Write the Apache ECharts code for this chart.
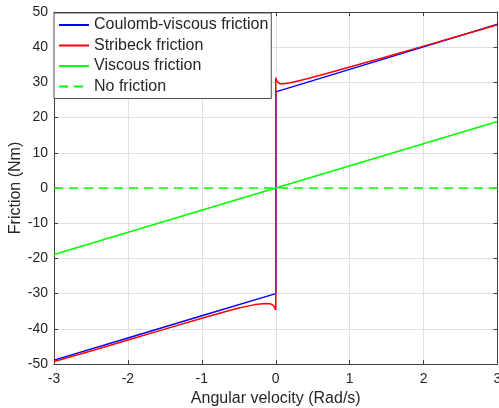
<!DOCTYPE html>
<html>
<head>
<meta charset="utf-8">
<title>Friction models</title>
<script src="https://cdn.jsdelivr.net/npm/echarts@6/dist/echarts.min.js"></script>
<style>
html, body {
	margin: 0;
	padding: 0;
	background: #fff;
}
#chart {
	width: 499px;
	height: 408px;
}
</style>
</head>
<body>
<div id="chart"></div>
<script type="text/javascript">
// data: [angular velocity, friction]
var coulombViscous = [[-3, -48.9], [-2, -42.6], [-1, -36.3], [0, -30.0],
    [0, 27.3], [1, 33.7], [2, 40.1], [3, 46.5]];

var stribeck = [[-3, -49.3], [-2.5, -46.3], [-2, -43.2], [-1.5, -40.1], [-1, -37.0],
    [-0.7, -35.2], [-0.5, -34.1], [-0.3, -33.2], [-0.15, -32.8], [-0.07, -32.9],
    [-0.03, -33.4], [0, -34.6], [0, 31.3], [0.02, 30.2], [0.06, 29.6], [0.12, 29.6],
    [0.2, 29.9], [0.4, 30.9], [0.7, 32.6], [1, 34.4], [1.5, 37.3], [2, 40.3],
    [2.5, 43.3], [3, 46.4]];

var viscous = [[-3, -18.9], [3, 18.9]];
var noFriction = [[-3, 0], [3, 0]];

var seriesNames = ['Coulomb-viscous friction', 'Stribeck friction', 'Viscous friction', 'No friction'];

var axisColor = '#404040';
var textColor = '#262626';
var font = 'Liberation Sans, Arial, Helvetica, sans-serif';

var myChart = echarts.init(document.getElementById('chart'));

var option = {
    animation: false,
    grid: {left: 54, right: 1.5, top: 12, bottom: 44, containLabel: false, outerBoundsMode: 'none'},
    legend: {
        data: seriesNames,
        orient: 'vertical',
        left: 54,
        top: 13,
        itemWidth: 30,
        itemHeight: 14,
        itemGap: 4.5,
        padding: [4, 3, 4, 4],
        backgroundColor: '#fff',
        borderColor: '#4d4d4d',
        borderWidth: 1,
        itemStyle: {opacity: 0},
        textStyle: {fontFamily: font, fontSize: 16, color: textColor}
    },
    xAxis: [{
        type: 'value',
        min: -3,
        max: 3,
        interval: 1,
        name: 'Angular velocity (Rad/s)',
        nameLocation: 'middle',
        nameGap: 27,
        nameMoveOverlap: false,
        nameTextStyle: {fontFamily: font, fontSize: 16, color: textColor},
        axisLine: {show: true, onZero: false, lineStyle: {color: axisColor}},
        axisTick: {show: true, inside: true, length: 4, lineStyle: {color: axisColor}},
        axisLabel: {fontFamily: font, fontSize: 14, color: textColor, margin: 8},
        splitLine: {show: true, lineStyle: {color: '#e0e0e0'}}
    }, {
        type: 'value',
        position: 'top',
        min: -3,
        max: 3,
        interval: 1,
        axisLine: {show: true, onZero: false, lineStyle: {color: axisColor}},
        axisTick: {show: true, inside: true, length: 4, lineStyle: {color: axisColor}},
        axisLabel: {show: false},
        splitLine: {show: false}
    }],
    yAxis: [{
        type: 'value',
        min: -50,
        max: 50,
        interval: 10,
        name: 'Friction (Nm)',
        nameLocation: 'middle',
        nameGap: 30,
        nameMoveOverlap: false,
        nameTextStyle: {fontFamily: font, fontSize: 16, color: textColor},
        axisLine: {show: true, onZero: false, lineStyle: {color: axisColor}},
        axisTick: {show: true, inside: true, length: 4, lineStyle: {color: axisColor}},
        axisLabel: {fontFamily: font, fontSize: 14, color: textColor, margin: 6},
        splitLine: {show: true, lineStyle: {color: '#e0e0e0'}}
    }, {
        type: 'value',
        position: 'right',
        min: -50,
        max: 50,
        interval: 10,
        axisLine: {show: true, onZero: false, lineStyle: {color: axisColor}},
        axisTick: {show: true, inside: true, length: 4, lineStyle: {color: axisColor}},
        axisLabel: {show: false},
        splitLine: {show: false}
    }],
    series: [{
        name: seriesNames[0],
        type: 'line',
        symbol: 'none',
        data: coulombViscous,
        lineStyle: {color: '#0000ff', width: 1.5},
        itemStyle: {color: '#0000ff'}
    }, {
        name: seriesNames[1],
        type: 'line',
        symbol: 'none',
        data: stribeck,
        lineStyle: {color: '#ff0000', width: 1.5},
        itemStyle: {color: '#ff0000'}
    }, {
        name: seriesNames[2],
        type: 'line',
        symbol: 'none',
        data: viscous,
        lineStyle: {color: '#00ff00', width: 1.5},
        itemStyle: {color: '#00ff00'}
    }, {
        name: seriesNames[3],
        type: 'line',
        symbol: 'none',
        data: noFriction,
        lineStyle: {color: '#00ff00', width: 1.5, type: [9, 6]},
        itemStyle: {color: '#00ff00'}
    }]
};

myChart.setOption(option);
</script>
</body>
</html>
